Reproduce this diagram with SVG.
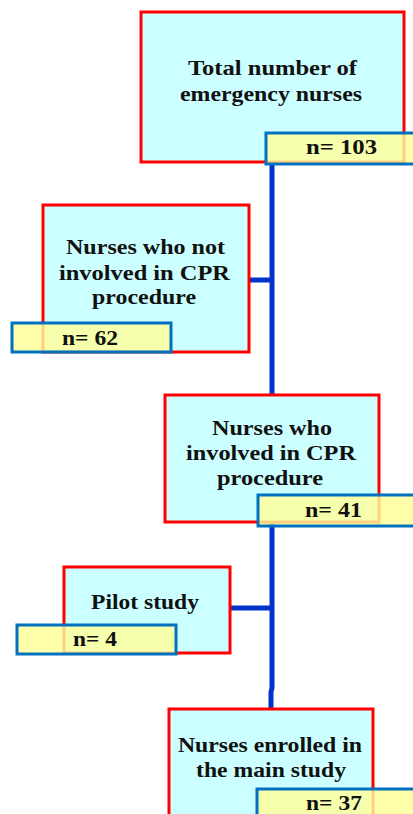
<svg xmlns="http://www.w3.org/2000/svg" width="413" height="814" viewBox="0 0 413 814">
<style>
.box{fill:#ccffff;stroke:#ff0000;stroke-width:3}
.n{fill:#ffff99;fill-opacity:0.82;stroke:#0070c0;stroke-width:3}
.t{font-family:"Liberation Serif","Times New Roman",serif;font-weight:bold;font-size:22px;fill:#111}
.conn{stroke:#0033cc;stroke-width:5;fill:none}
</style>
<rect width="413" height="814" fill="#ffffff"/>
<g id="connectors">
<path class="conn" d="M272 160 V394"/>
<path class="conn" d="M249 280 H272"/>
<path class="conn" d="M272 522 V688 L271 692 V708"/>
<path class="conn" d="M230 608 H272"/>
</g>
<g id="total">
<rect class="box" x="141" y="12" width="263" height="150"/>
<text class="t" x="188" y="75" textLength="169" lengthAdjust="spacingAndGlyphs">Total number  of</text>
<text class="t" x="180" y="101" textLength="182" lengthAdjust="spacingAndGlyphs">emergency nurses</text>
<rect class="n" x="266" y="133" width="152" height="31"/>
<text class="t" x="306" y="154" textLength="71" lengthAdjust="spacingAndGlyphs">n= 103</text>
</g>
<g id="notinvolved">
<rect class="box" x="43" y="205" width="206" height="147"/>
<text class="t" x="66" y="254" textLength="159" lengthAdjust="spacingAndGlyphs">Nurses who not</text>
<text class="t" x="59" y="280" textLength="171" lengthAdjust="spacingAndGlyphs">involved in  CPR</text>
<text class="t" x="92" y="304" textLength="104" lengthAdjust="spacingAndGlyphs">procedure</text>
<rect class="n" x="12" y="323" width="159" height="29"/>
<text class="t" x="62" y="345" textLength="56" lengthAdjust="spacingAndGlyphs">n= 62</text>
</g>
<g id="involved">
<rect class="box" x="165" y="395" width="214" height="127"/>
<text class="t" x="212" y="435" textLength="120" lengthAdjust="spacingAndGlyphs">Nurses who</text>
<text class="t" x="186" y="460" textLength="170" lengthAdjust="spacingAndGlyphs">involved in  CPR</text>
<text class="t" x="217" y="485" textLength="106" lengthAdjust="spacingAndGlyphs">procedure</text>
<rect class="n" x="258" y="495" width="160" height="31"/>
<text class="t" x="305" y="517" textLength="57" lengthAdjust="spacingAndGlyphs">n= 41</text>
</g>
<g id="pilot">
<rect class="box" x="64" y="567" width="166" height="86"/>
<text class="t" x="91" y="609" textLength="108" lengthAdjust="spacingAndGlyphs">Pilot study</text>
<rect class="n" x="17" y="625" width="159" height="29"/>
<text class="t" x="73" y="646" textLength="44" lengthAdjust="spacingAndGlyphs">n= 4</text>
</g>
<g id="enrolled">
<rect class="box" x="169" y="709" width="204" height="120"/>
<text class="t" x="178" y="752" textLength="184" lengthAdjust="spacingAndGlyphs">Nurses enrolled in</text>
<text class="t" x="196" y="777" textLength="150" lengthAdjust="spacingAndGlyphs">the main study</text>
<rect class="n" x="257" y="789" width="160" height="40"/>
<text class="t" x="306" y="810" textLength="56" lengthAdjust="spacingAndGlyphs">n= 37</text>
</g>
</svg>
